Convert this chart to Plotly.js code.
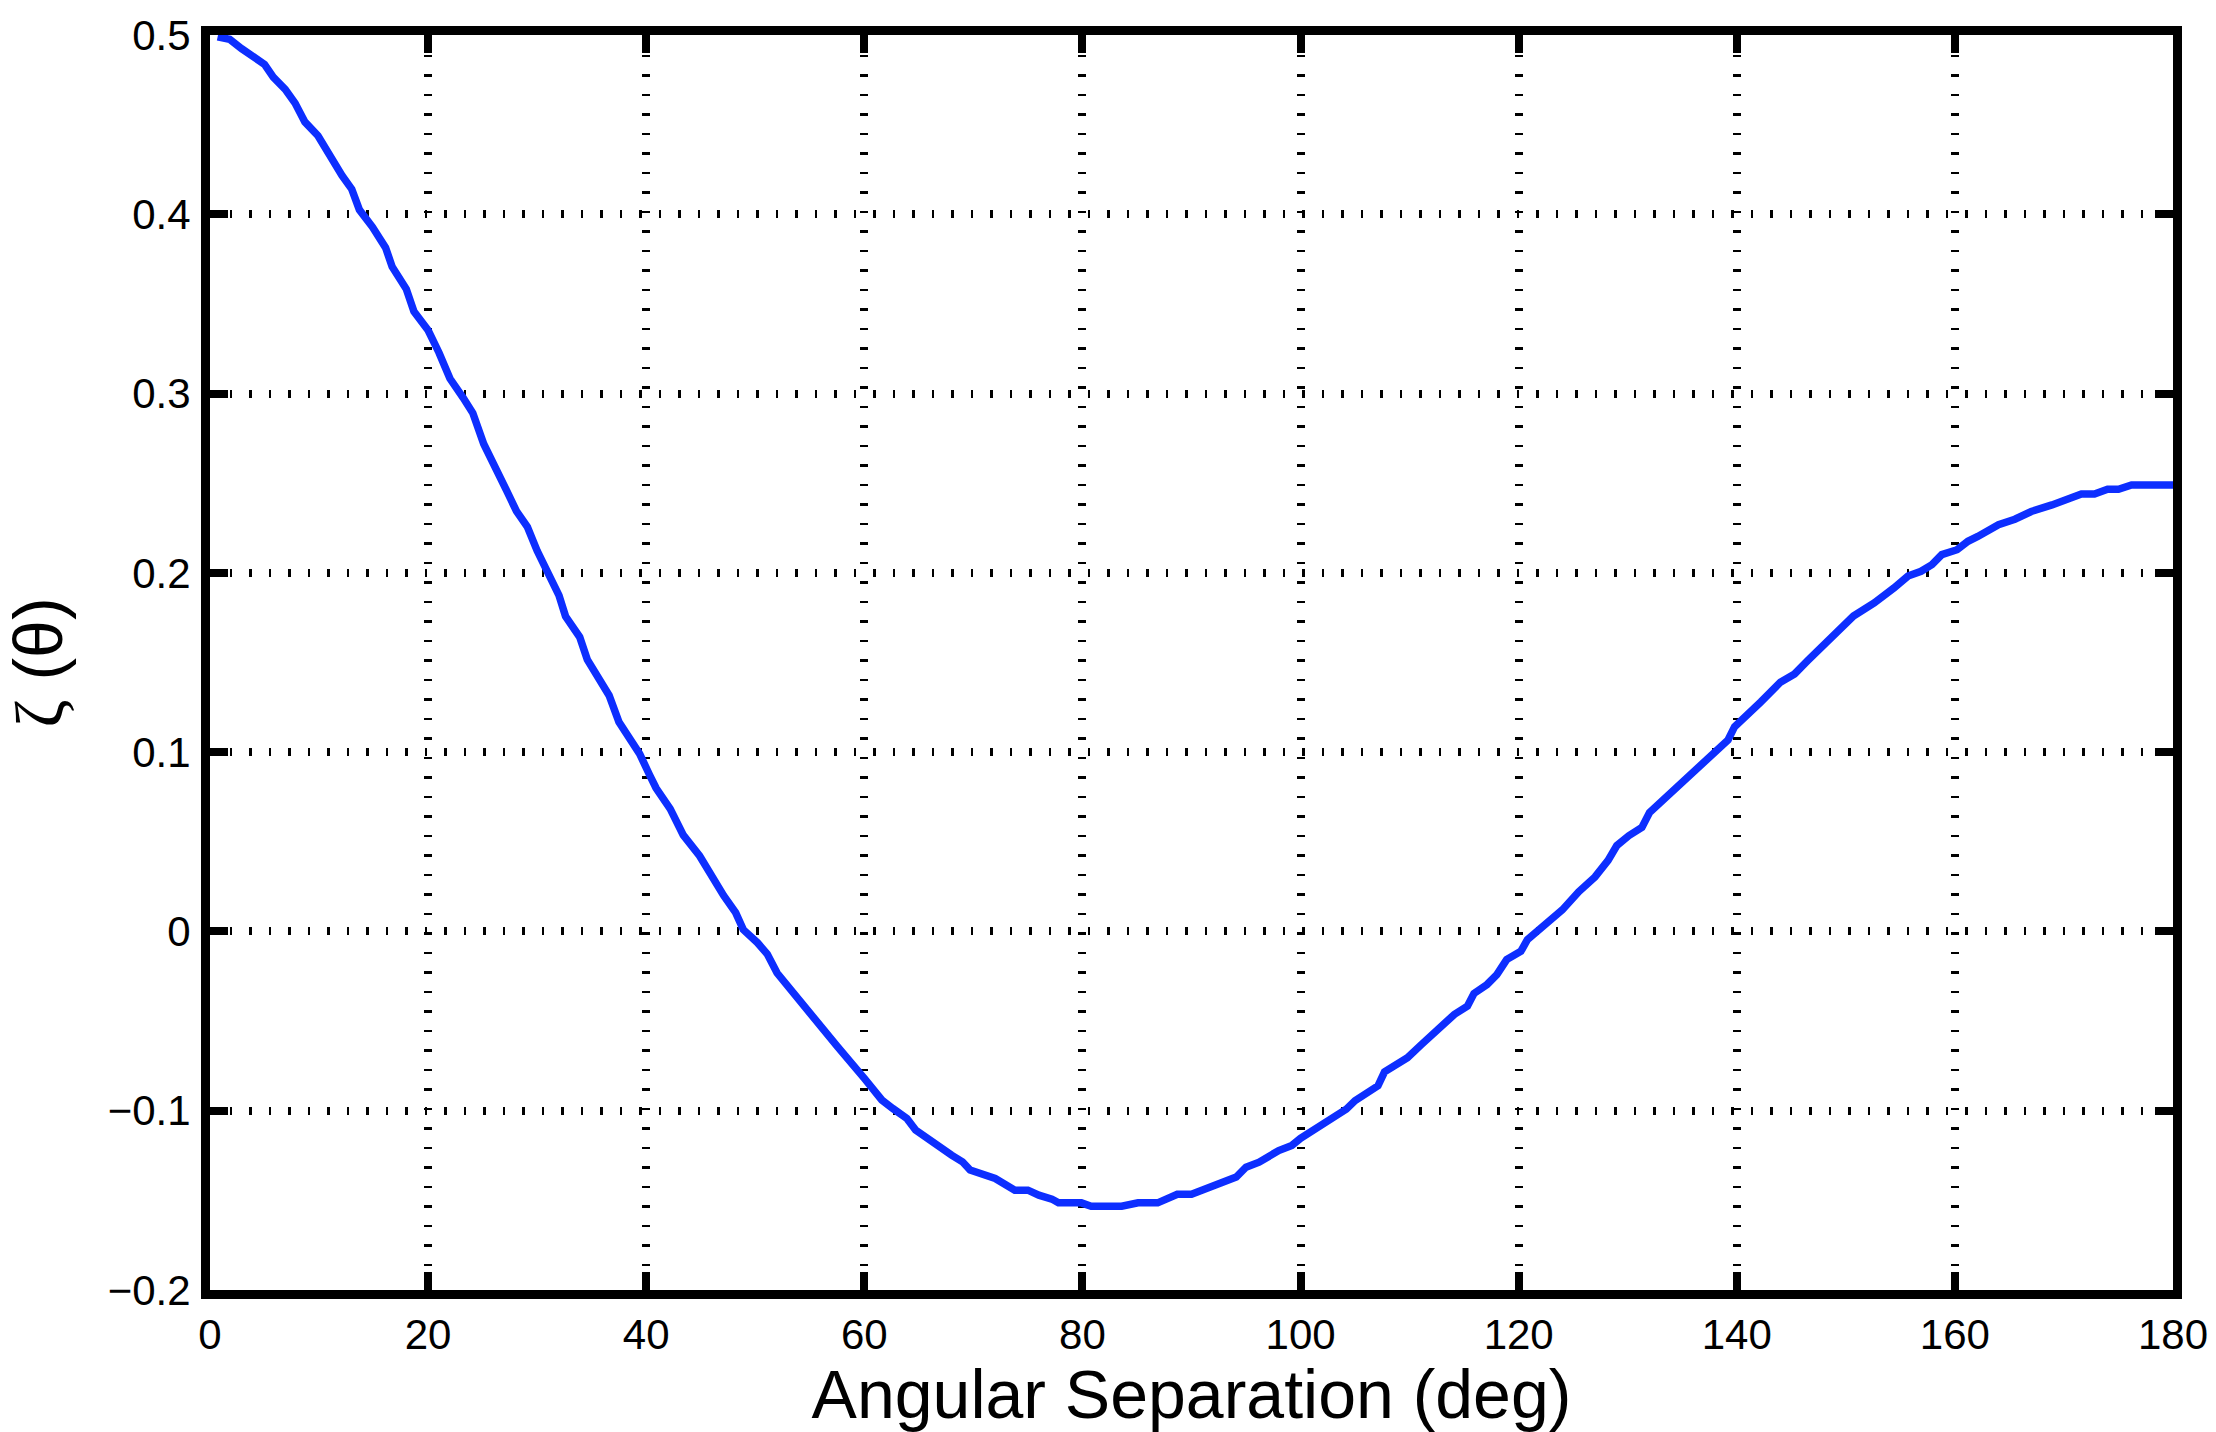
<!DOCTYPE html>
<html>
<head>
<meta charset="utf-8">
<script src="https://cdn.plot.ly/plotly-3.0.1.min.js"></script>
<style>
  html, body { margin: 0; padding: 0; background: #ffffff; }
  #chart { width: 2216px; height: 1432px; }
</style>
</head>
<body>
<div id="chart"></div>
<script>
// Angular separation (deg)
const theta = [
  0.7, 1.8, 2.9, 5.0, 5.8, 6.9, 7.8, 8.7, 9.9, 10.9, 12.1, 13.0, 13.7, 14.9, 16.1, 16.7, 18.0, 18.7,
  20.0, 21.0, 22.0, 23.2, 24.1, 25.1, 26.1, 27.2, 28.1, 29.1, 30.0, 30.5, 32.0, 32.6, 33.9, 34.6,
  36.6, 37.5, 39.4, 40.3, 40.9, 42.2, 43.4, 44.9, 45.9, 47.1, 48.2, 48.9, 50.2, 51.1, 52.0, 53.5,
  55.0, 57.5, 60.0, 61.6, 62.6, 63.9, 64.7, 66.8, 68.0, 69.0, 69.7, 72.0, 73.8, 75.0, 76.0, 77.2,
  77.8, 79.9, 80.8, 83.6, 85.1, 86.9, 88.7, 90.0, 91.8, 94.1, 95.0, 96.2, 98.0, 99.2, 100.0, 101.1,
  102.1, 103.2, 104.2, 105.0, 107.1, 107.7, 109.8, 111.1, 112.9, 114.1, 115.3, 115.9, 117.1, 118.0,
  118.9, 120.2, 120.8, 122.0, 123.2, 124.0, 125.5, 127.0, 128.2, 129.0, 130.1, 131.3, 132.0, 134.0,
  136.1, 138.0, 139.2, 139.8, 141.0, 142.2, 144.0, 145.3, 146.5, 148.0, 148.9, 150.7, 152.6, 153.5,
  154.4, 155.7, 156.9, 157.9, 158.8, 160.2, 161.2, 162.1, 163.4, 164.0, 165.5, 167.0, 168.9, 170.1,
  171.6, 172.8, 174.0, 175.0, 176.2, 180.0
];
// zeta(theta)
const zeta = [
  0.499, 0.4976, 0.4924, 0.4836, 0.4765, 0.4697, 0.462, 0.4515, 0.4438, 0.4332, 0.4217, 0.414, 0.4025,
  0.3929, 0.3814, 0.3708, 0.3583, 0.3458, 0.3353, 0.3228, 0.3084, 0.2978, 0.2891, 0.2719, 0.2603,
  0.2459, 0.2344, 0.2257, 0.2123, 0.2055, 0.1874, 0.1758, 0.1642, 0.1516, 0.1316, 0.1168, 0.099,
  0.0874, 0.080, 0.0684, 0.0537, 0.0421, 0.0316, 0.020, 0.0105, 0.001, -0.0063, -0.0126, -0.0232,
  -0.0347, -0.046, -0.064, -0.082, -0.094, -0.0987, -0.1043, -0.1108, -0.1201, -0.1248, -0.1285,
  -0.1331, -0.1378, -0.1443, -0.1443, -0.1471, -0.1493, -0.1514, -0.1514, -0.1533, -0.1533, -0.1514,
  -0.1514, -0.1466, -0.1466, -0.1421, -0.137, -0.1315, -0.1287, -0.1222, -0.1194, -0.1154, -0.1111,
  -0.1083, -0.1028, -0.0991, -0.0944, -0.0861, -0.0783, -0.0704, -0.063, -0.0528, -0.0463, -0.0417,
  -0.0346, -0.0296, -0.0241, -0.0157, -0.0111, -0.0046, 0.0019, 0.0074, 0.012, 0.0221, 0.0304,
  0.0396, 0.0479, 0.0534, 0.058, 0.0663, 0.0773, 0.0893, 0.0994, 0.1068, 0.1142, 0.1206, 0.128,
  0.139, 0.1436, 0.151, 0.1602, 0.1648, 0.1759, 0.1832, 0.1869, 0.1915, 0.1982, 0.2009, 0.2046,
  0.2102, 0.2129, 0.2176, 0.2203, 0.2249, 0.2268, 0.2299, 0.2342, 0.2379, 0.2407, 0.244, 0.244,
  0.2466, 0.2466, 0.249, 0.249
];
const xTicks = [0, 20, 40, 60, 80, 100, 120, 140, 160, 180];
const yTicks = [-0.2, -0.1, 0, 0.1, 0.2, 0.3, 0.4, 0.5];
const yTickText = ["\u22120.2", "\u22120.1", "0", "0.1", "0.2", "0.3", "0.4", "0.5"];
const xTitle = "Angular Separation (deg)";
const yTitle = "<span style=\"font-family:'Liberation Serif'\">\u03b6</span> (\u03b8)";

const font = "Liberation Sans, Arial, Helvetica, sans-serif";

const axisCommon = {
  showline: true, linecolor: "#000", linewidth: 9, mirror: "ticks",
  ticks: "inside", ticklen: 18, tickwidth: 8, tickcolor: "#000",
  showgrid: true, gridcolor: "#000", gridwidth: 8, griddash: "2.5px,17px",
  zeroline: false, tickfont: { family: font, size: 42, color: "#000" },
  fixedrange: true
};

const trace = {
  x: theta, y: zeta, type: "scatter", mode: "lines",
  line: { color: "#0d2eff", width: 7.5 }, hoverinfo: "skip"
};

const layout = {
  width: 2216, height: 1432,
  margin: { l: 210, r: 43, t: 35, b: 142 },
  paper_bgcolor: "#ffffff", plot_bgcolor: "#ffffff",
  showlegend: false,
  font: { family: font, color: "#000" },
  xaxis: Object.assign({}, axisCommon, {
    range: [0, 180], tickmode: "array", tickvals: xTicks,
    ticktext: xTicks.map(String), ticklabelstandoff: 0,
    title: { text: xTitle, font: { family: font, size: 68, color: "#000" }, standoff: 14 }
  }),
  yaxis: Object.assign({}, axisCommon, {
    range: [-0.2, 0.5], tickmode: "array", tickvals: yTicks,
    ticktext: yTickText, ticklabelstandoff: 2,
    title: { text: yTitle, font: { family: font, size: 68, color: "#000" }, standoff: 26 }
  })
};

Plotly.newPlot("chart", [trace], layout, { displayModeBar: false, staticPlot: true });
</script>
</body>
</html>
